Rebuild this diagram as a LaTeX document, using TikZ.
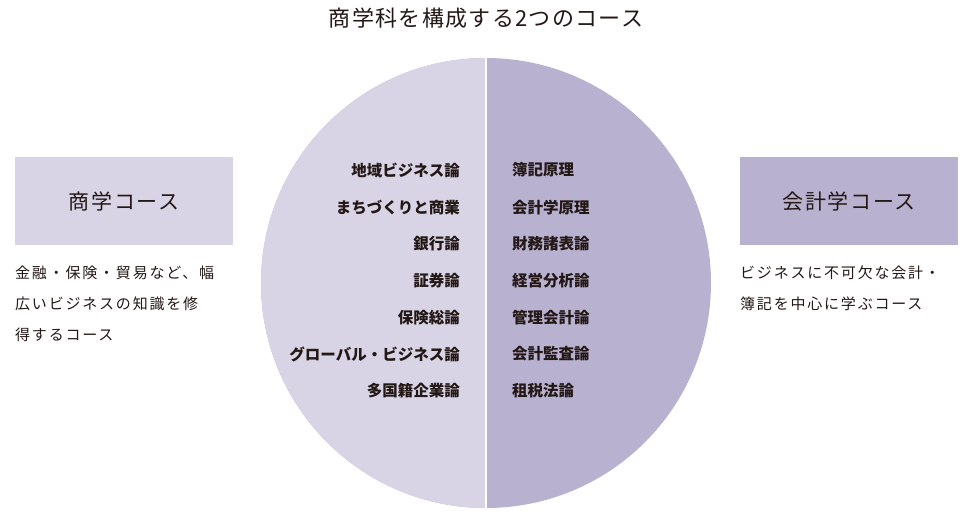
\documentclass[tikz,border=0pt]{standalone}
\usepackage{fontspec}
\setmainfont{Noto Sans CJK JP}
\definecolor{lightp}{HTML}{D8D4E5}
\definecolor{darkp}{HTML}{B8B2D0}
\definecolor{txt}{HTML}{231815}
\tikzset{
  item/.style={font=\fontsize{15.5}{18}\selectfont\bfseries, text=txt, inner sep=0pt},
  lit/.style={item, anchor=east},
  rit/.style={item, anchor=west},
  course/.style={minimum width=218pt, minimum height=88pt, inner sep=0pt, font=\fontsize{21}{24}\selectfont\addfontfeature{LetterSpace=8}, text=txt, anchor=north west},
  desc/.style={font=\fontsize{15}{31}\selectfont\addfontfeature{LetterSpace=12}, text=txt, anchor=north west, align=left, inner sep=0pt}
}
\begin{document}
\begin{tikzpicture}[x=1pt,y=-1pt]
\useasboundingbox (0,0) rectangle (969,515);
\fill[darkp] (486,283) circle[radius=225];
\begin{scope}
\clip (486,283) circle[radius=225];
\fill[lightp] (250,50) rectangle (486,520);
\end{scope}
\draw[white,line width=1.5pt] (486,58) -- (486,508);
\node[font=\fontsize{22}{24}\selectfont\addfontfeature{LetterSpace=6}, text=txt] (title) at (486,18) {商学科を構成する2つのコース};
\node[course, fill=lightp] (c1) at (15,157) {商学コース};
\node[course, fill=darkp] (c2) at (740,157) {会計学コース};
\node[desc] (d1) at (15,266) {金融・保険・貿易など、幅\\広いビジネスの知識を修\\得するコース};
\node[desc] (d2) at (740,266) {ビジネスに不可欠な会計・\\簿記を中心に学ぶコース};
\node[lit] (l1) at (460,170) {地域ビジネス論};
\node[lit] (l2) at (460,208) {まちづくりと商業};
\node[lit] (l3) at (460,244) {銀行論};
\node[lit] (l4) at (460,281) {証券論};
\node[lit] (l5) at (460,318) {保険総論};
\node[lit] (l6) at (460,354) {グローバル・ビジネス論};
\node[lit] (l7) at (460,391) {多国籍企業論};
\node[rit] (r1) at (512,170) {簿記原理};
\node[rit] (r2) at (512,208) {会計学原理};
\node[rit] (r3) at (512,244) {財務諸表論};
\node[rit] (r4) at (512,281) {経営分析論};
\node[rit] (r5) at (512,318) {管理会計論};
\node[rit] (r6) at (512,354) {会計監査論};
\node[rit] (r7) at (512,391) {租税法論};
\end{tikzpicture}
\end{document}
